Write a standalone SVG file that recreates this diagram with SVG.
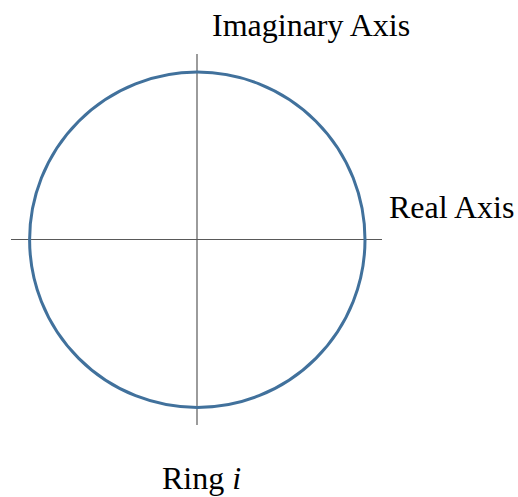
<svg xmlns="http://www.w3.org/2000/svg" width="518" height="497" viewBox="0 0 518 497">
<style>
.axis{stroke:#595959;stroke-width:1.2;fill:none}
.ring{stroke:#41719C;stroke-width:3;fill:none}
.lbl{font-family:"Liberation Serif","Times New Roman",serif;font-size:32px;fill:#000}
</style>
<rect width="518" height="497" fill="#fff"/>
<g id="connectors">
<line class="axis" x1="11" y1="239.5" x2="382" y2="239.5"/>
<line class="axis" x1="197" y1="54" x2="197" y2="425"/>
</g>
<g id="ring"><circle class="ring" cx="197.3" cy="239.8" r="167.7"/></g>
<g id="imag-label"><text class="lbl" x="212" y="36">Imaginary Axis</text></g>
<g id="real-label"><text class="lbl" x="389" y="218">Real Axis</text></g>
<g id="ring-label"><text class="lbl" x="162" y="489">Ring <tspan font-style="italic">i</tspan></text></g>
</svg>
